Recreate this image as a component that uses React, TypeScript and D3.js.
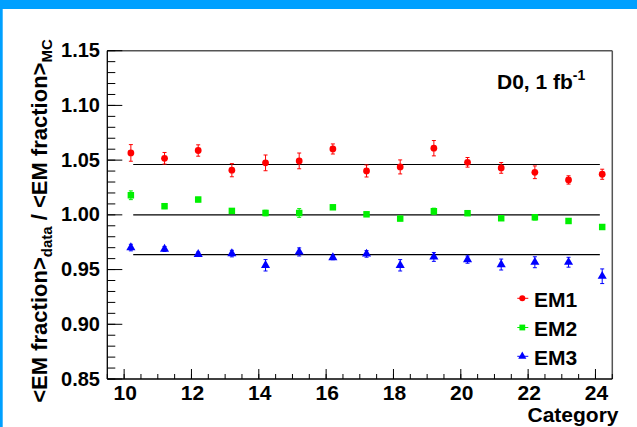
import React from "react";
import * as d3 from "d3";

// Category positions of the measured points
const categories = [10.2, 11.2, 12.2, 13.2, 14.2, 15.2, 16.2, 17.2, 18.2, 19.2, 20.2, 21.2, 22.2, 23.2, 24.2];

// Ratio <EM fraction>_data / <EM fraction>_MC per layer, with uncertainties
const em1 = [1.0566, 1.0517, 1.0588, 1.0408, 1.0475, 1.0493, 1.0602, 1.0401, 1.0438, 1.0609, 1.048, 1.0429, 1.0389, 1.0319, 1.0371];
const em1Err = [0.0076, 0.0053, 0.0052, 0.006, 0.0072, 0.0072, 0.0046, 0.0055, 0.0064, 0.007, 0.0044, 0.0049, 0.0058, 0.0038, 0.0046];
const em2 = [1.0179, 1.0079, 1.014, 1.0036, 1.0017, 1.0017, 1.0069, 1.0005, 0.9966, 1.0033, 1.0015, 0.9969, 0.9978, 0.9944, 0.9889];
const em2Err = [0.004, 0.0022, 0.002, 0.002, 0.0025, 0.004, 0.002, 0.002, 0.002, 0.0028, 0.002, 0.002, 0.0025, 0.002, 0.002];
const em3 = [0.9701, 0.9688, 0.964, 0.9646, 0.9539, 0.9661, 0.961, 0.9643, 0.9539, 0.9615, 0.9591, 0.9546, 0.9567, 0.9567, 0.9439];
const em3Err = [0.003, 0.0023, 0.002, 0.003, 0.0052, 0.0037, 0.002, 0.003, 0.0052, 0.004, 0.0033, 0.005, 0.005, 0.0045, 0.0067];

// Constant fits and their range
const fitLevels = [1.046, 1.0, 0.9637];
const fitRange = [10.27, 24.13];

const seriesNames = ["EM1", "EM2", "EM3"];
const xTickValues = [10, 12, 14, 16, 18, 20, 22, 24];
const yTickValues = [0.85, 0.9, 0.95, 1.0, 1.05, 1.1, 1.15];

const W = 637;
const H = 427;
const FONT = "'Liberation Sans', Arial, Helvetica, sans-serif";

const colors = ["#ff0000", "#00f000", "#0000ff"];
const shapes = [d3.symbolCircle, d3.symbolSquare, d3.symbolTriangle];

export default function App() {
  const x = d3.scaleLinear().domain([9.5, 24.5]).range([107.3, 612.3]);
  const y = d3.scaleLinear().domain([0.85, 1.15]).range([379, 50.7]);
  const [x0, x1] = x.range();
  const [yb, yt] = y.range();

  const xMinor = d3.range(9.5, 24.5001, 0.5);
  const yMinor = d3.range(85, 115.001, 1).map((v) => v / 100);

  const series = [
    { vals: em1, errs: em1Err },
    { vals: em2, errs: em2Err },
    { vals: em3, errs: em3Err },
  ];

  const symSizes = [36, 42, 36];
  const sym = (i: number, s = symSizes[i]) => d3.symbol().type(shapes[i]).size(s)() as string;

  const legendX = 522.3;
  const legendY = [298.3, 327.5, 356.3];

  return (
    <svg
      width={W}
      height={H}
      style={{ position: "absolute", left: 0, top: 0, fontFamily: FONT }}
    >
      <rect x={0} y={0} width={W} height={H} fill="#ffffff" />
      <rect x={0} y={0} width={W} height={9} fill="#00a0ff" />
      <rect x={0} y={0} width={2.7} height={H} fill="#00a0ff" />

      {/* frame */}
      <line x1={x0} x2={x1} y1={yt} y2={yt} stroke="#555" strokeWidth={1.5} />
      <line x1={x1} x2={x1} y1={yt} y2={yb} stroke="#555" strokeWidth={1.5} />

      {/* y axis */}
      <line x1={x0} x2={x0} y1={yt} y2={yb} stroke="#000" strokeWidth={1.3} />
      {yMinor.map((v) => (
        <line key={"ym" + v} x1={x0} x2={x0 + 8} y1={y(v)} y2={y(v)} stroke="#000" strokeWidth={1} />
      ))}
      {yTickValues.map((v) => (
        <g key={"yt" + v}>
          <line x1={x0} x2={x0 + 15} y1={y(v)} y2={y(v)} stroke="#000" strokeWidth={1} />
          <text x={100} y={y(v) + 6.5} textAnchor="end" fontSize={20} fontWeight="bold" fill="#000">
            {d3.format(".2f")(v)}
          </text>
        </g>
      ))}

      {/* x axis */}
      <line x1={x0} x2={x1} y1={yb} y2={yb} stroke="#000" strokeWidth={1.3} />
      {xMinor.map((v) => (
        <line key={"xm" + v} x1={x(v)} x2={x(v)} y1={yb} y2={yb - 5} stroke="#000" strokeWidth={1} />
      ))}
      {xTickValues.map((v) => (
        <g key={"xt" + v}>
          <line x1={x(v)} x2={x(v)} y1={yb} y2={yb - 10} stroke="#000" strokeWidth={1} />
          <text x={x(v) + 1} y={400} textAnchor="middle" fontSize={21} fontWeight="bold" fill="#000">
            {v}
          </text>
        </g>
      ))}

      {/* axis titles */}
      <text x={618.5} y={421.5} textAnchor="end" fontSize={21} fontWeight="bold" fill="#000">
        Category
      </text>
      <text
        transform="translate(47,221) rotate(-90)"
        textAnchor="middle"
        fontSize={22}
        fontWeight="bold"
        fill="#000"
      >
        <tspan>{"<EM fraction>"}</tspan>
        <tspan fontSize={15} dy={5}>data</tspan>
        <tspan dy={-5}>{" / <EM fraction>"}</tspan>
        <tspan fontSize={15} dy={5}>MC</tspan>
      </text>

      {/* fitted constants */}
      {fitLevels.map((v, i) => (
        <line
          key={"fit" + i}
          x1={x(fitRange[0])}
          x2={x(fitRange[1])}
          y1={y(v)}
          y2={y(v)}
          stroke="#000"
          strokeWidth={1.2}
        />
      ))}

      {/* points with error bars */}
      {series.map((s, si) => (
        <g key={"s" + si} fill={colors[si]} stroke={colors[si]}>
          {s.vals.map((v, i) => {
            const cx = x(categories[i]);
            const lo = y(v - s.errs[i]);
            const hi = y(v + s.errs[i]);
            return (
              <g key={i}>
                <line x1={cx} x2={cx} y1={lo} y2={hi} strokeWidth={1} />
                <line x1={cx - 2} x2={cx + 2} y1={lo} y2={lo} strokeWidth={1} />
                <line x1={cx - 2} x2={cx + 2} y1={hi} y2={hi} strokeWidth={1} />
                <path d={sym(si)} transform={`translate(${cx},${y(v)})`} stroke="none" />
              </g>
            );
          })}
        </g>
      ))}

      {/* label */}
      <text x={497} y={89.3} fontSize={21} fontWeight="bold" fill="#000">
        D0, 1 fb
        <tspan fontSize={14} dy={-9}>-1</tspan>
      </text>

      {/* legend */}
      {seriesNames.map((name, i) => (
        <g key={name}>
          <line
            x1={legendX - 5}
            x2={legendX + 6}
            y1={legendY[i]}
            y2={legendY[i]}
            stroke={colors[i]}
            strokeWidth={1}
          />
          <path d={sym(i, symSizes[i] * 0.8)} transform={`translate(${legendX},${legendY[i]})`} fill={colors[i]} />
          <text x={534} y={legendY[i] + 8.2} fontSize={21} fontWeight="bold" fill="#000">
            {name}
          </text>
        </g>
      ))}
    </svg>
  );
}
